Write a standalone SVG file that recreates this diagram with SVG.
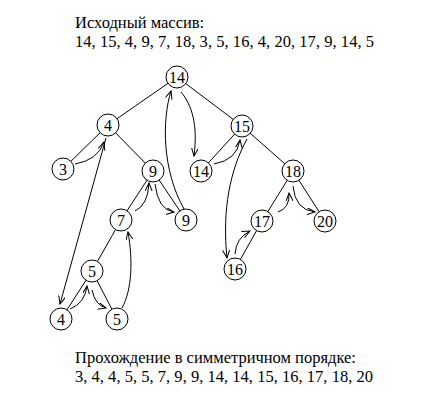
<svg xmlns="http://www.w3.org/2000/svg" width="441" height="400" viewBox="0 0 441 400">
<style>
.t{font-family:"Liberation Serif","Times New Roman",serif;font-size:16.5px;fill:#000}
.n circle{fill:#fff;stroke:#000;stroke-width:1}
.n text{font-family:"Liberation Serif","Times New Roman",serif;font-size:16px;text-anchor:middle;fill:#000}
.e line{stroke:#000;stroke-width:1}
.a path{fill:none;stroke:#000;stroke-width:1;marker-end:url(#ah)}
</style>
<defs>
<marker id="ah" markerUnits="userSpaceOnUse" markerWidth="10" markerHeight="10" refX="8" refY="3.5" orient="auto">
<path d="M0,0 L8,3.5 L0,7" fill="none" stroke="#000" stroke-width="1"/>
</marker>
</defs>
<rect width="441" height="400" fill="#fff"/>
<text class="t" x="75" y="28">Исходный массив:</text>
<text class="t" x="75" y="47" textLength="299" lengthAdjust="spacing">14, 15, 4, 9, 7, 18, 3, 5, 16, 4, 20, 17, 9, 14, 5</text>
<text class="t" x="75" y="363">Прохождение в симметричном порядке:</text>
<text class="t" x="75" y="382" textLength="298" lengthAdjust="spacing">3, 4, 4, 5, 5, 7, 9, 9, 14, 14, 15, 16, 17, 18, 20</text>
<g id="edges" class="e">
<line x1="177" y1="77" x2="108" y2="125"/>
<line x1="177" y1="77" x2="242" y2="126"/>
<line x1="108" y1="125" x2="63" y2="169"/>
<line x1="108" y1="125" x2="153" y2="171"/>
<line x1="153" y1="171" x2="121" y2="220"/>
<line x1="153" y1="171" x2="186" y2="220"/>
<line x1="121" y1="220" x2="92" y2="271"/>
<line x1="92" y1="271" x2="61" y2="319"/>
<line x1="92" y1="271" x2="117" y2="319"/>
<line x1="242" y1="126" x2="201" y2="171"/>
<line x1="242" y1="126" x2="293" y2="171"/>
<line x1="293" y1="171" x2="262" y2="221"/>
<line x1="293" y1="171" x2="325" y2="221"/>
<line x1="262" y1="221" x2="235" y2="269"/>
</g>
<g id="n14" class="n"><circle cx="177" cy="77" r="11"/><text x="177" y="82.5">14</text></g>
<g id="n4" class="n"><circle cx="108" cy="125" r="11"/><text x="108" y="130.5">4</text></g>
<g id="n3" class="n"><circle cx="63" cy="169" r="11"/><text x="63" y="174.5">3</text></g>
<g id="n9" class="n"><circle cx="153" cy="171" r="11"/><text x="153" y="176.5">9</text></g>
<g id="n7" class="n"><circle cx="121" cy="220" r="11"/><text x="121" y="225.5">7</text></g>
<g id="n9b" class="n"><circle cx="186" cy="220" r="11"/><text x="186" y="225.5">9</text></g>
<g id="n5" class="n"><circle cx="92" cy="271" r="11"/><text x="92" y="276.5">5</text></g>
<g id="n4b" class="n"><circle cx="61" cy="319" r="11"/><text x="61" y="324.5">4</text></g>
<g id="n5b" class="n"><circle cx="117" cy="319" r="11"/><text x="117" y="324.5">5</text></g>
<g id="n15" class="n"><circle cx="242" cy="126" r="11"/><text x="242" y="131.5">15</text></g>
<g id="n14b" class="n"><circle cx="201" cy="171" r="11"/><text x="201" y="176.5">14</text></g>
<g id="n18" class="n"><circle cx="293" cy="171" r="11"/><text x="293" y="176.5">18</text></g>
<g id="n17" class="n"><circle cx="262" cy="221" r="11"/><text x="262" y="226.5">17</text></g>
<g id="n20" class="n"><circle cx="325" cy="221" r="11"/><text x="325" y="226.5">20</text></g>
<g id="n16" class="n"><circle cx="235" cy="269" r="11"/><text x="235" y="274.5">16</text></g>
<g id="traversal" class="a">
<path d="M75,164 Q98,160 104,142"/>
<path d="M106,138 L60,304"/>
<path d="M70,309 Q85,303 87,286"/>
<path d="M92,290 Q95,305 106,308"/>
<path d="M122,308 C132,290 133,260 128,232"/>
<path d="M135,211 Q148,205 149,183"/>
<path d="M155,184 Q158,210 174,212"/>
<path d="M184,209 C162,170 162,120 171,91"/>
<path d="M181,92 C192,105 198,125 194,156"/>
<path d="M214,164 Q237,160 240,140"/>
<path d="M247,139 C230,170 222,210 227,258"/>
<path d="M235,254 Q236,238 250,231"/>
<path d="M278,212 Q290,208 289,193"/>
<path d="M293,186 Q295,210 315,212"/>
</g>
</svg>
